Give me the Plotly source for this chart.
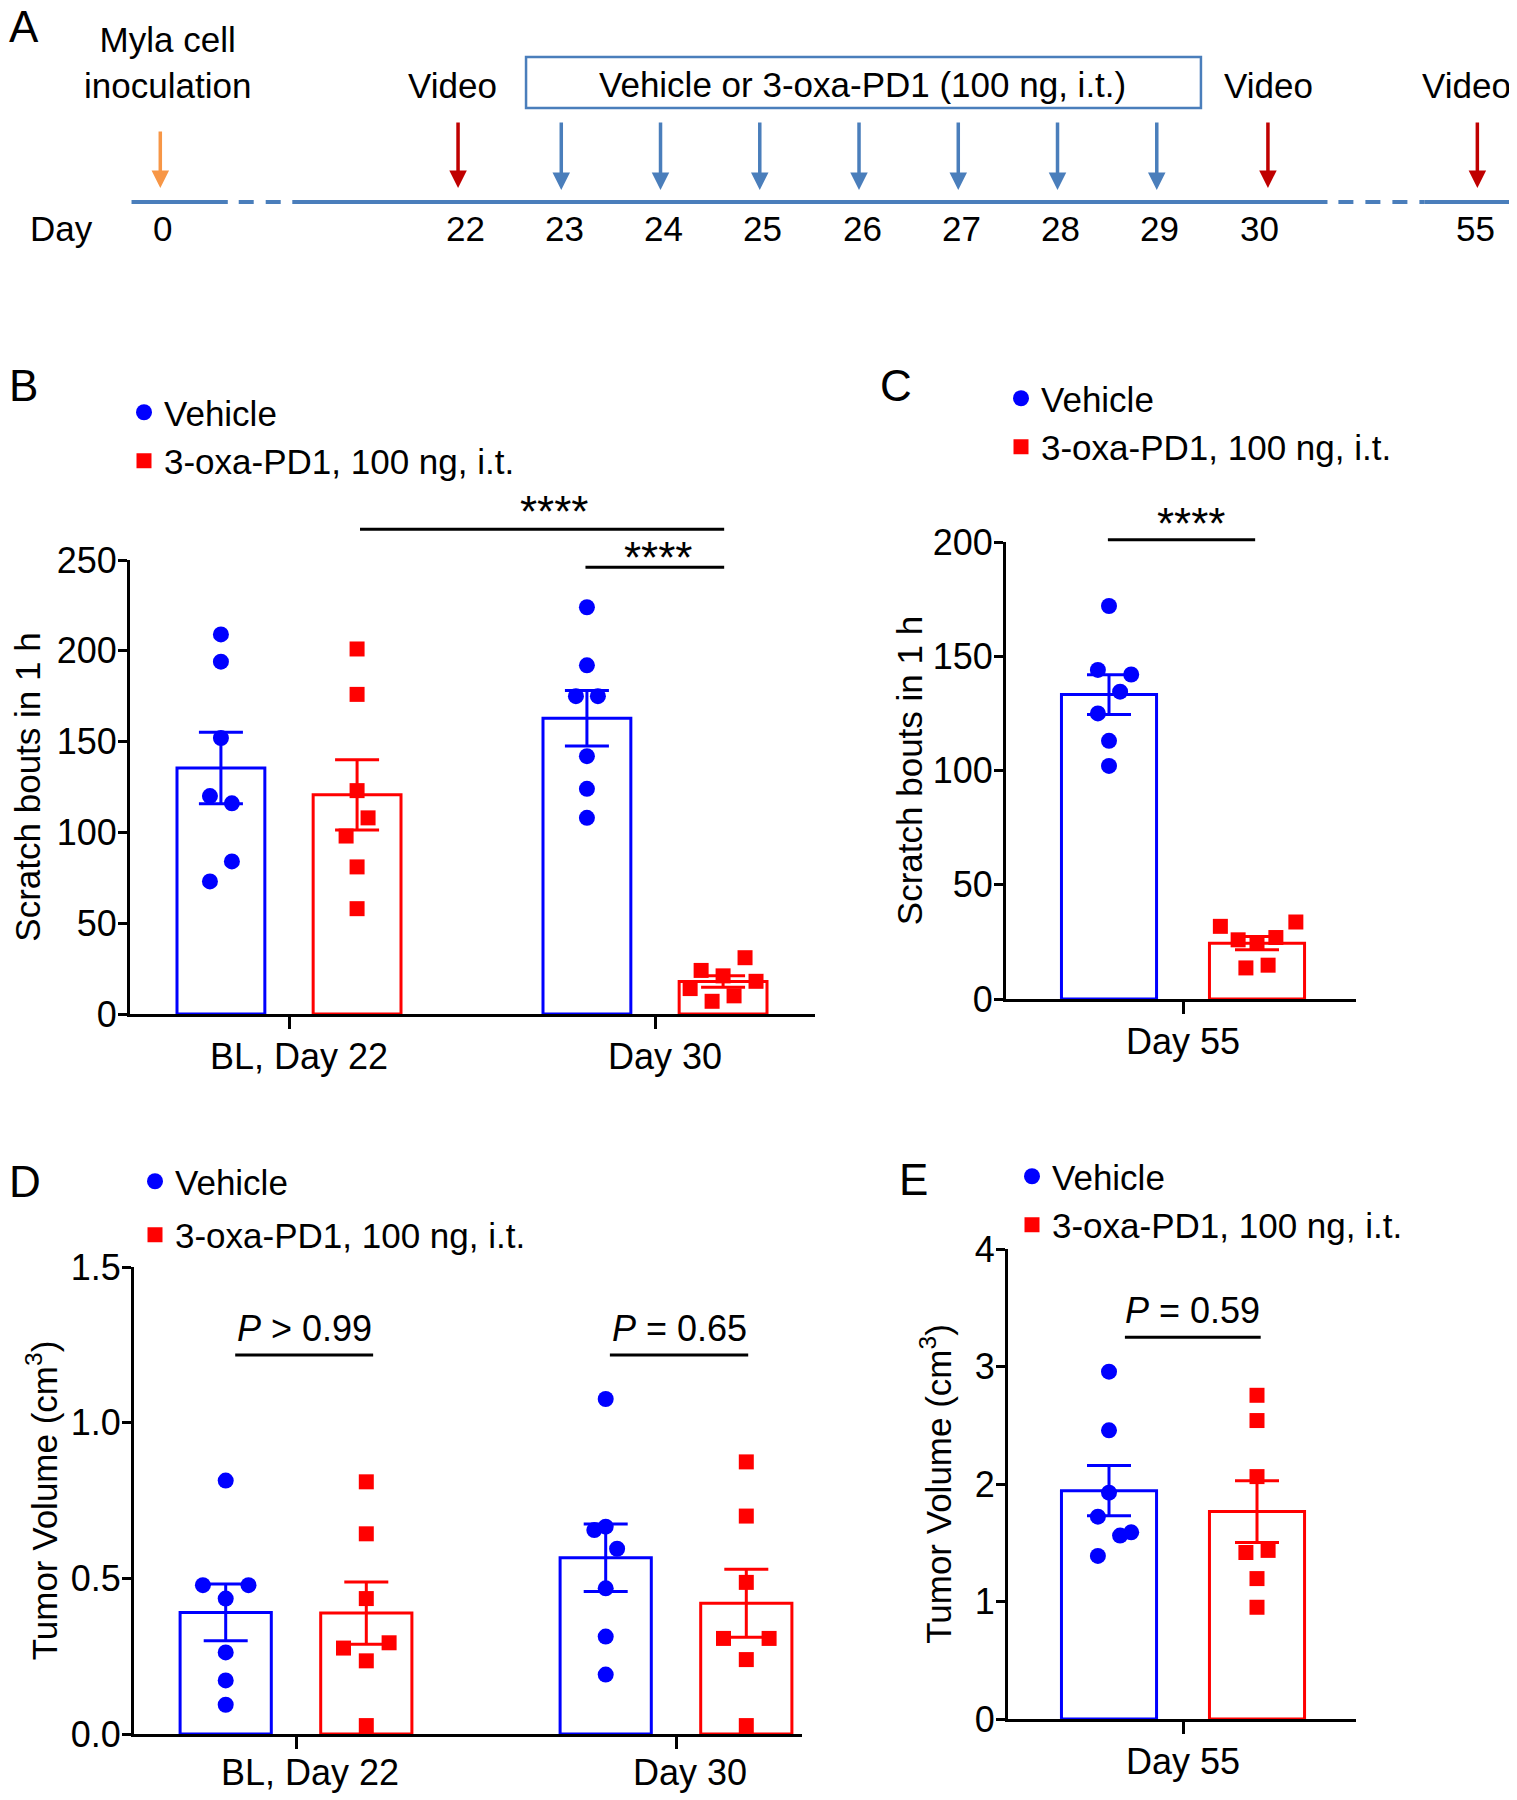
import numpy as np
import plotly.graph_objects as go

W, H = 1517, 1800
OFF = 8  # page body margin around the plot div
FONT = "Liberation Sans, Arial, sans-serif"
BLUE = "#0000ff"
RED = "#ff0000"
TL_BLUE = "#4a7ebb"

# ---- A: timeline (days)
day_labels = [0, 22, 23, 24, 25, 26, 27, 28, 29, 30, 55]
inoc_day = 0
video_days = [22, 30, 55]
dose_days = [23, 24, 25, 26, 27, 28, 29]

# ---- B: scratch bouts in 1 h (BL day 22 / day 30)
bd_groups = ["BL, Day 22", "Day 30"]
b_veh_bl = [209, 194, 152, 120, 116, 84, 73]
b_veh_d30 = [224, 192, 175, 175, 142, 124, 108]
b_oxa_bl = [201, 176, 123, 108, 98, 81, 58]
b_oxa_d30 = [31, 24, 21, 18, 14, 10, 7]
b_sig = [267, 246]

# ---- C: scratch bouts day 55
c_groups = ["Day 55"]
c_veh = [172, 144, 142, 134.5, 125, 113, 102]
c_oxa = [31.8, 33.7, 25.9, 24.4, 26.9, 13.6, 14.8]
c_sig = 201

# ---- D: tumor volume (BL day 22 / day 30)
d_veh_bl = [0.814, 0.478, 0.478, 0.435, 0.262, 0.172, 0.094]
d_veh_d30 = [1.076, 0.666, 0.655, 0.595, 0.468, 0.313, 0.191]
d_oxa_bl = [0.81, 0.643, 0.435, 0.293, 0.276, 0.235, 0.027]
d_oxa_d30 = [0.874, 0.70, 0.487, 0.307, 0.307, 0.239, 0.027]
d_p = ["<i>P</i> &gt; 0.99", "<i>P</i> = 0.65"]
d_sig = 1.217

# ---- E: tumor volume day 55
e_veh = [2.956, 2.457, 1.926, 1.722, 1.561, 1.589, 1.388]
e_oxa = [2.755, 2.54, 2.063, 1.417, 1.435, 1.195, 0.951]
e_p = "<i>P</i> = 0.59"
e_sig = 3.25

# horizontal jitter of the dots (in units of one dot)
jit_b = {"veh": [[0, 0, 0, -1, 1, 1, -1], [0, 0, -1, 1, 0, 0, 0]],
         "oxa": [[0, 0, 0, 1, -1, 0, 0], [2, -2, 0, 3, -3, 1, -1]]}
jit_c = {"veh": [[0, -1, 2, 1, -1, 0, 0]], "oxa": [[-3.3, 3.5, -1.7, 0, 1.7, -1, 1]]}
jit_d = {"veh": [[0, -2, 2, 0, 0, 0, 0], [0, 0, -1, 1, 0, 0, 0]],
         "oxa": [[0, 0, 0, 2, -2, 0, 0], [0, 0, 0, -2, 2, 0, 0]]}
jit_e = {"veh": [[0, 0, 0, -1, 1, 2, -1]], "oxa": [[0, 0, 0, -1, 1, 0, 0]]}

LEG_NAMES = ["Vehicle", "3-oxa-PD1, 100 ng, i.t."]


def px(p):
    return (p - OFF) / W


def py(p):
    return 1 - (p - OFF) / H


def slot(d):
    # broken time axis: day 22..30 evenly spaced, 0 and 55 beyond the breaks
    if d < 22:
        return -3.05
    if d > 30:
        return 10.18
    return d - 22


fig = go.Figure()
shapes = []
ann = []

# ================= Panel A =================
tl_y = 202
for x0, x1, dash in [(-3.36, -2.39, "solid"), (-2.28, -1.74, "15px,12px"),
                     (-1.74, 8.69, "solid"), (8.80, 9.67, "15px,12px"), (9.67, 10.54, "solid")]:
    shapes.append(dict(type="line", xref="x", yref="y", x0=x0, x1=x1, y0=tl_y, y1=tl_y,
                       line=dict(color=TL_BLUE, width=4, dash=dash)))
# treatment box
shapes.append(dict(type="rect", xref="x", yref="y", x0=slot(dose_days[0]) - 0.385,
                   x1=slot(dose_days[-1]) + 0.415, y0=57, y1=108,
                   line=dict(color=TL_BLUE, width=2.5)))
ann.append(dict(xref="x", yref="y", x=slot(26), y=84, showarrow=False,
                text="Vehicle or 3-oxa-PD1 (100 ng, i.t.)", font=dict(size=35)))


def arrow(x, color, top, tip):
    ann.append(dict(xref="x", yref="y", axref="x", ayref="y", x=x, y=tip, ax=x, ay=top,
                    text="", showarrow=True, arrowhead=2, arrowsize=1.0, arrowwidth=3.5,
                    arrowcolor=color, standoff=0))


arrow(slot(inoc_day) - 0.02, "#f79646", 130, 188)
for d, dx, tx in zip(video_days, [-0.07, 0.09, 0.02], [-0.13, 0.1, -0.09]):
    arrow(slot(d) + dx, "#c00000", 121, 188)
    ann.append(dict(xref="x", yref="y", x=slot(d) + tx, y=85, showarrow=False,
                    text="Video", font=dict(size=35)))
for d in dose_days:
    arrow(slot(d) - 0.03, TL_BLUE, 121, 190)
ann.append(dict(xref="x", yref="y", x=slot(inoc_day) + 0.05, y=62, showarrow=False,
                text="Myla cell<br>inoculation", font=dict(size=35)))
for d in day_labels:
    ann.append(dict(xref="x", yref="y", x=slot(d), y=228, showarrow=False,
                    text=str(d), font=dict(size=35)))
ann.append(dict(xref="x", yref="y", x=-4.07, y=228, showarrow=False, text="Day",
                font=dict(size=35)))
fig.add_trace(go.Scatter(x=[slot(d) for d in day_labels], y=[tl_y] * len(day_labels),
                         mode="markers", marker=dict(size=1, opacity=0), xaxis="x", yaxis="y",
                         showlegend=False, hoverinfo="skip"))


# ================= bar panels =================
def bar_panel(ax, veh_sets, oxa_sets, jit, off, width, legend):
    xa, ya = "x" + ax, "y" + ax
    for k, (sets, color, sym, size) in enumerate([(veh_sets, BLUE, "circle", 16),
                                                  (oxa_sets, RED, "square", 15)]):
        sign = -1 if k == 0 else 1
        xs = [i + sign * off for i in range(len(sets))]
        means = [float(np.mean(s)) for s in sets]
        sems = [float(np.std(s, ddof=1) / np.sqrt(len(s))) for s in sets]
        fig.add_trace(go.Bar(x=xs, y=means, width=width,
                             marker=dict(color="white", line=dict(color=color, width=3)),
                             error_y=dict(type="data", array=sems, color=color,
                                          thickness=3, width=22),
                             xaxis=xa, yaxis=ya, showlegend=False, hoverinfo="skip"))
        jits = jit["veh" if k == 0 else "oxa"]
        dx, dy = [], []
        for i, s in enumerate(sets):
            dx += [xs[i] + 0.03 * j for j in jits[i]]
            dy += list(s)
        fig.add_trace(go.Scatter(x=dx, y=dy, mode="markers", name=LEG_NAMES[k],
                                 marker=dict(symbol=sym, size=size, color=color),
                                 legend=legend, legendgroup=legend + str(k),
                                 xaxis=xa, yaxis=ya, cliponaxis=False, hoverinfo="skip"))


bar_panel("2", [b_veh_bl, b_veh_d30], [b_oxa_bl, b_oxa_d30], jit_b, 0.186, 0.24, "legend")
bar_panel("3", [c_veh], [c_oxa], jit_c, 0.2, 0.257, "legend2")
bar_panel("4", [d_veh_bl, d_veh_d30], [d_oxa_bl, d_oxa_d30], jit_d, 0.185, 0.24, "legend3")
bar_panel("5", [e_veh], [e_oxa], jit_e, 0.2, 0.257, "legend4")


def sig_line(xa, ya, x0, x1, lvl, label, size, gap, xshift=0):
    fig.add_trace(go.Scatter(x=[x0, x1], y=[lvl, lvl], mode="lines",
                             line=dict(color="black", width=3), xaxis=xa, yaxis=ya,
                             showlegend=False, hoverinfo="skip"))
    ann.append(dict(xref=xa, yref=ya, x=(x0 + x1) / 2, y=lvl, yanchor="bottom", yshift=gap,
                    xshift=xshift, showarrow=False, text=label, font=dict(size=size)))


sig_line("x6", "y6", 0.194, 1.189, b_sig[0], "****", 44, -9, 12)
sig_line("x6", "y6", 0.81, 1.189, b_sig[1], "****", 44, -17, 4)
sig_line("x7", "y7", -0.203, 0.195, c_sig, "****", 44, -10, 10)
sig_line("x4", "y4", -0.16, 0.203, d_sig, d_p[0], 36, 4)
sig_line("x4", "y4", 1 - 0.174, 1.19, d_sig, d_p[1], 36, 4)
sig_line("x5", "y5", -0.157, 0.21, e_sig, e_p, 36, 4)

# panel letters
for t, x, y in [("A", 24, 27), ("B", 23, 385), ("C", 896, 385), ("D", 25, 1181), ("E", 913, 1179)]:
    ann.append(dict(xref="paper", yref="paper", x=px(x), y=py(y), xanchor="center",
                    yanchor="middle", showarrow=False, text=t, font=dict(size=44)))

# ---- axes
axline = dict(showline=True, linewidth=3, linecolor="black", ticks="outside", tickwidth=3,
              tickcolor="black", showgrid=False, zeroline=False, tickfont=dict(size=36))


def yax(dom, rng, dtick, title, standoff, fmt=""):
    return dict(axline, domain=[py(dom[0]), py(dom[1])], range=rng, dtick=dtick, ticklen=9,
                ticklabelstandoff=-6, tickformat=fmt,
                title=dict(text=title, font=dict(size=35), standoff=standoff))


def xax(dom, center, ppu, labels, shift=0, lstand=-3):
    return dict(axline, domain=[px(dom[0]), px(dom[1])],
                range=[(dom[0] - center) / ppu, (dom[1] - center) / ppu],
                tickvals=list(range(len(labels))), ticktext=labels, ticklen=12,
                ticklabelshift=shift, ticklabelstandoff=lstand)


b_px = (1014, 560)
c_px = (999, 542)
hidden = dict(visible=False)
fig.update_layout(
    xaxis=dict(hidden, domain=[0, 1], range=[(OFF - 465) / 99.25, (W + OFF - 465) / 99.25]),
    yaxis=dict(hidden, domain=[py(260), 1], range=[260, OFF]),
    xaxis2=xax((130, 815), 289, 366, bd_groups, 10),
    yaxis2=yax(b_px, [0, 250], 50, "Scratch bouts in 1 h", 14),
    xaxis3=xax((1006, 1356), 1183, 370, c_groups),
    yaxis3=yax(c_px, [0, 200], 50, "Scratch bouts in 1 h", 0),
    xaxis4=xax((134, 802), 296, 380, bd_groups, 14, -7),
    yaxis4=yax((1734, 1267), [0, 1.5], 0.5, "Tumor Volume (cm<sup>3</sup>)", 3, ".1f"),
    xaxis5=xax((1008, 1356), 1183, 370, c_groups),
    yaxis5=yax((1719, 1249), [0, 4], 1, "Tumor Volume (cm<sup>3</sup>)", 13),
    xaxis6=dict(hidden, domain=[px(130), px(815)], range=[(130 - 289) / 366, (815 - 289) / 366],
                anchor="y6"),
    yaxis6=dict(hidden, domain=[py(b_px[0]), py(470)], anchor="x6",
                range=[0, 250 * (b_px[0] - 470) / (b_px[0] - b_px[1])]),
    xaxis7=dict(hidden, domain=[px(1006), px(1356)],
                range=[(1006 - 1183) / 370, (1356 - 1183) / 370], anchor="y7"),
    yaxis7=dict(hidden, domain=[py(c_px[0]), py(480)], anchor="x7",
                range=[0, 200 * (c_px[0] - 480) / (c_px[0] - c_px[1])]),
)
for i in "2345":
    fig.layout["xaxis" + i].anchor = "y" + i
    fig.layout["yaxis" + i].anchor = "x" + i

leg = dict(font=dict(size=35), bgcolor="rgba(0,0,0,0)", borderwidth=0, xanchor="left",
           yanchor="top", tracegroupgap=0, itemsizing="trace")
fig.update_layout(
    legend=dict(leg, x=px(124), y=py(383)),
    legend2=dict(leg, x=px(1001), y=py(369)),
    legend3=dict(leg, x=px(135), y=py(1152), tracegroupgap=5),
    legend4=dict(leg, x=px(1012), y=py(1147)),
)

fig.update_layout(width=W, height=H, margin=dict(l=0, r=0, t=0, b=0, autoexpand=False),
                  paper_bgcolor="white", plot_bgcolor="rgba(0,0,0,0)", barmode="overlay",
                  font=dict(family=FONT, color="black", size=35),
                  shapes=shapes, annotations=ann, showlegend=True)

fig.write_html("out.html")
